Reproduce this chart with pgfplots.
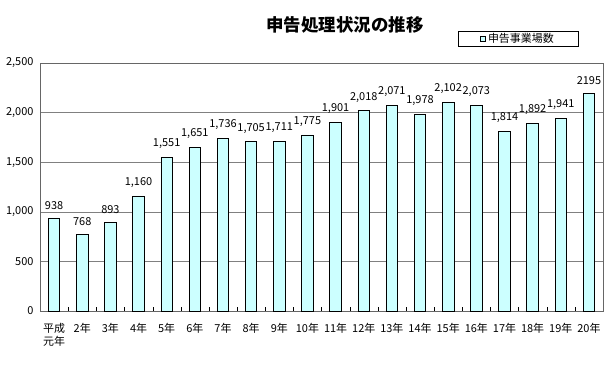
\documentclass[border=0pt]{standalone}
\usepackage{fontspec}
\setmainfont{Noto Sans CJK JP}
\usepackage{pgfplots}
\pgfplotsset{compat=1.18}
\usepackage{pgfplotstable}
\definecolor{barcyan}{HTML}{CCFFFF}
\pgfplotstableread{
x y lab
0 938 938
1 768 768
2 893 893
3 1160 1,160
4 1551 1,551
5 1651 1,651
6 1736 1,736
7 1705 1,705
8 1711 1,711
9 1775 1,775
10 1901 1,901
11 2018 2,018
12 2071 2,071
13 1978 1,978
14 2102 2,102
15 2073 2,073
16 1814 1,814
17 1892 1,892
18 1941 1,941
19 2195 2195
}\data
\begin{document}
\begin{tikzpicture}[x=1bp,y=1bp]
\useasboundingbox (0,0) rectangle (609,364);
\node[font=\fontsize{17.5}{19}\selectfont\bfseries] at (345,339) {申告処理状況の推移};
\begin{axis}[
  at={(40bp,53bp)}, anchor=south west,
  scale only axis, width=563bp, height=248bp,
  xmin=-0.5, xmax=19.5, ymin=0, ymax=2500,
  ytick={0,500,1000,1500,2000,2500},
  yticklabels={0,500,{1,000},{1,500},{2,000},{2,500}},
  xtick=data,
  xticklabels={{平成\\元年},2年,3年,4年,5年,6年,7年,8年,9年,10年,11年,12年,13年,14年,15年,16年,17年,18年,19年,20年},
  xticklabel style={align=center, font=\fontsize{11}{13}\selectfont, yshift=-9bp},
  yticklabel style={font=\fontsize{11}{12}\selectfont, xshift=-3bp},
  minor xtick={0.5,1.5,...,18.5},
  minor tick length=4bp,
  major tick length=0pt,
  tick align=inside,
  tick pos=bottom,
  minor x tick style={black},
  ymajorgrids, grid style={gray, line width=0.6pt},
  axis line style={gray!80!black, line width=0.7pt},
  /pgf/number format/assume math mode=true,
  legend style={at={(0.849,1.099)}, anchor=center, draw=black, line width=0.5pt,
    font=\fontsize{11}{12}\selectfont, inner xsep=22bp, inner ysep=0bp, legend cell align=left},
  legend image code/.code={\draw[black, fill=barcyan, line width=0.8pt] (0bp,-2.5bp) rectangle (5bp,2.5bp);},
  clip=false,
]
\addplot[ybar, bar width=11.5bp, fill=barcyan, draw=black, line width=0.8pt,
  nodes near coords, point meta=explicit symbolic,
  every node near coord/.append style={font=\fontsize{11}{12}\selectfont, black, yshift=5bp}]
  table[x=x, y=y, meta=lab] {\data};
\legend{申告事業場数}
\end{axis}
\end{tikzpicture}
\end{document}
